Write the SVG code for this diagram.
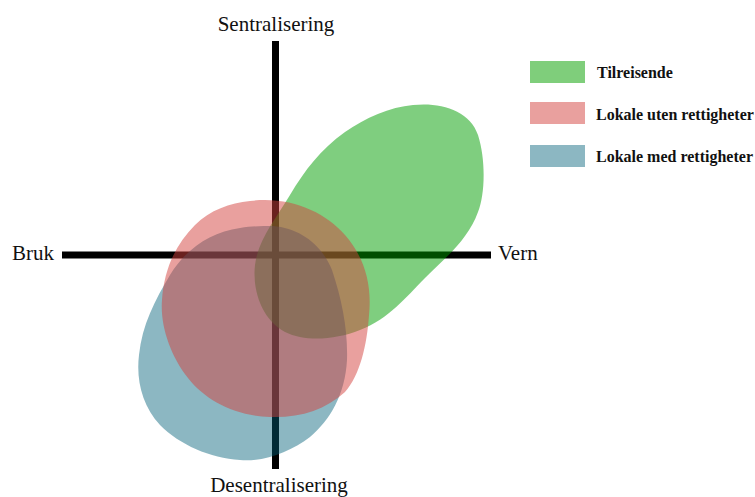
<svg xmlns="http://www.w3.org/2000/svg" width="755" height="497" viewBox="0 0 755 497">
<style>
.axis{stroke:#000;stroke-width:7;fill:none}
.lbl{font-family:"Liberation Serif","Times New Roman",serif;font-size:21px;fill:#111}
.leg{font-family:"Liberation Serif","Times New Roman",serif;font-size:16px;font-weight:bold;fill:#111}
.g{fill:rgb(0,157,0);fill-opacity:0.5}
.b{fill:rgb(0,95,119);fill-opacity:0.45}
.r{fill:rgb(211,65,61);fill-opacity:0.5}
</style>
<rect width="755" height="497" fill="#fff"/>
<g id="connectors">
<line class="axis" x1="275.5" y1="41" x2="275.5" y2="469"/>
<line class="axis" x1="62" y1="255" x2="491" y2="255"/>
</g>
<g id="axis-labels">
<text class="lbl" x="276" y="31" text-anchor="middle">Sentralisering</text>
<text class="lbl" x="279" y="492" text-anchor="middle">Desentralisering</text>
<text class="lbl" x="12" y="260">Bruk</text>
<text class="lbl" x="498" y="260">Vern</text>
</g>
<g id="tilreisende">
<path class="g" d="M 413,105 C 440,102 470,110 478,135 C 486,160 485,195 478,212 C 468,240 445,258 425,278 C 405,298 390,318 360,330 C 335,340 305,342 285,332 C 262,320 252,290 255,265 C 258,240 275,220 290,195 C 305,170 320,150 345,132 C 365,118 390,107 413,105 Z"/>
</g>
<g id="lokale-med-rettigheter">
<path class="b" d="M 273,226 C 300,228 322,245 332,270 C 342,300 348,330 347,360 C 345,395 330,420 310,437 C 290,452 265,462 240,460 C 210,458 180,445 160,425 C 142,405 136,380 139,355 C 142,325 155,300 170,275 C 185,250 210,232 240,228 C 252,226 262,226 273,226 Z"/>
</g>
<g id="lokale-uten-rettigheter">
<path class="r" d="M 250,201 C 290,196 325,212 345,235 C 365,258 372,285 369,315 C 367,345 360,375 345,392 C 325,410 300,418 270,417 C 235,416 205,400 188,378 C 170,355 160,325 162,300 C 164,270 175,245 195,225 C 210,210 230,203 250,201 Z"/>
</g>
<g id="legend">
<g id="legend-tilreisende">
<rect x="530" y="61" width="55" height="22" fill="#7fce7b"/>
<text class="leg" x="597" y="78">Tilreisende</text>
</g>
<g id="legend-uten">
<rect x="530" y="102" width="55" height="22" fill="#e9a09e"/>
<text class="leg" x="596" y="120">Lokale uten rettigheter</text>
</g>
<g id="legend-med">
<rect x="530" y="145" width="55" height="22" fill="#8cb7c2"/>
<text class="leg" x="596" y="162">Lokale med rettigheter</text>
</g>
</g>
</svg>
